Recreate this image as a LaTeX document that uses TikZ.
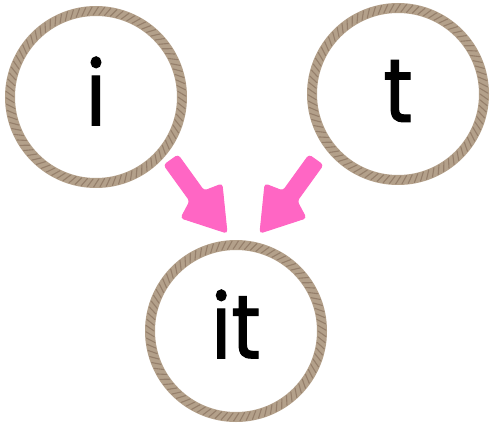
\documentclass[tikz,border=0pt]{standalone}
\usepackage{fontspec}
\setmainfont{Poppins}[FakeBold=1.2, FakeStretch=0.9]
\definecolor{ropebase}{HTML}{B3A08A}
\definecolor{ropedark}{HTML}{957F6B}
\definecolor{arrowpink}{HTML}{FF66C4}
\tikzset{
  ring/.style={circle, draw=ropebase, line width=10pt, minimum size=172pt, inner sep=0pt, font=\fontsize{90}{90}\selectfont},
  fatarrow/.style={fill=arrowpink, draw=arrowpink, line width=1pt, rounded corners=3pt},
}
\newcommand{\ropehatch}[1]{%
  \foreach \a in {0,4,...,356}{
    \draw[ropedark, line width=1.1pt, line cap=round] ($(#1)+(\a:82)$) -- ($(#1)+(\a+3.5:90)$);
  }}
\usetikzlibrary{calc}
\begin{document}
\begin{tikzpicture}[x=1pt,y=-1pt]
\useasboundingbox (0,0) rectangle (495,431);
\node[ring] (i) at (96,97) {\raisebox{6pt}[\height][\depth]{i}};
\node[ring] (t) at (398,94) {\raisebox{3pt}[\height][\depth]{t}};
\node[ring] (it) at (236,331) {\raisebox{7pt}[\height][\depth]{it}};
\ropehatch{i}
\ropehatch{t}
\ropehatch{it}
\coordinate (l1) at (164,165);
\coordinate (l2) at (178,155);
\coordinate (l3) at (204,191);
\coordinate (l4) at (222,184);
\coordinate (l5) at (227,233);
\coordinate (l6) at (181,218);
\coordinate (l7) at (190,201);
\coordinate (r1) at (323,165);
\coordinate (r2) at (309,155);
\coordinate (r3) at (283,191);
\coordinate (r4) at (265,184);
\coordinate (r5) at (260,233);
\coordinate (r6) at (306,218);
\coordinate (r7) at (297,201);
\draw[fatarrow] (l2) -- (l3) -- (l4) -- (l5) -- (l6) -- (l7) -- (l1) -- cycle;
\draw[fatarrow] (r2) -- (r3) -- (r4) -- (r5) -- (r6) -- (r7) -- (r1) -- cycle;
\end{tikzpicture}
\end{document}
